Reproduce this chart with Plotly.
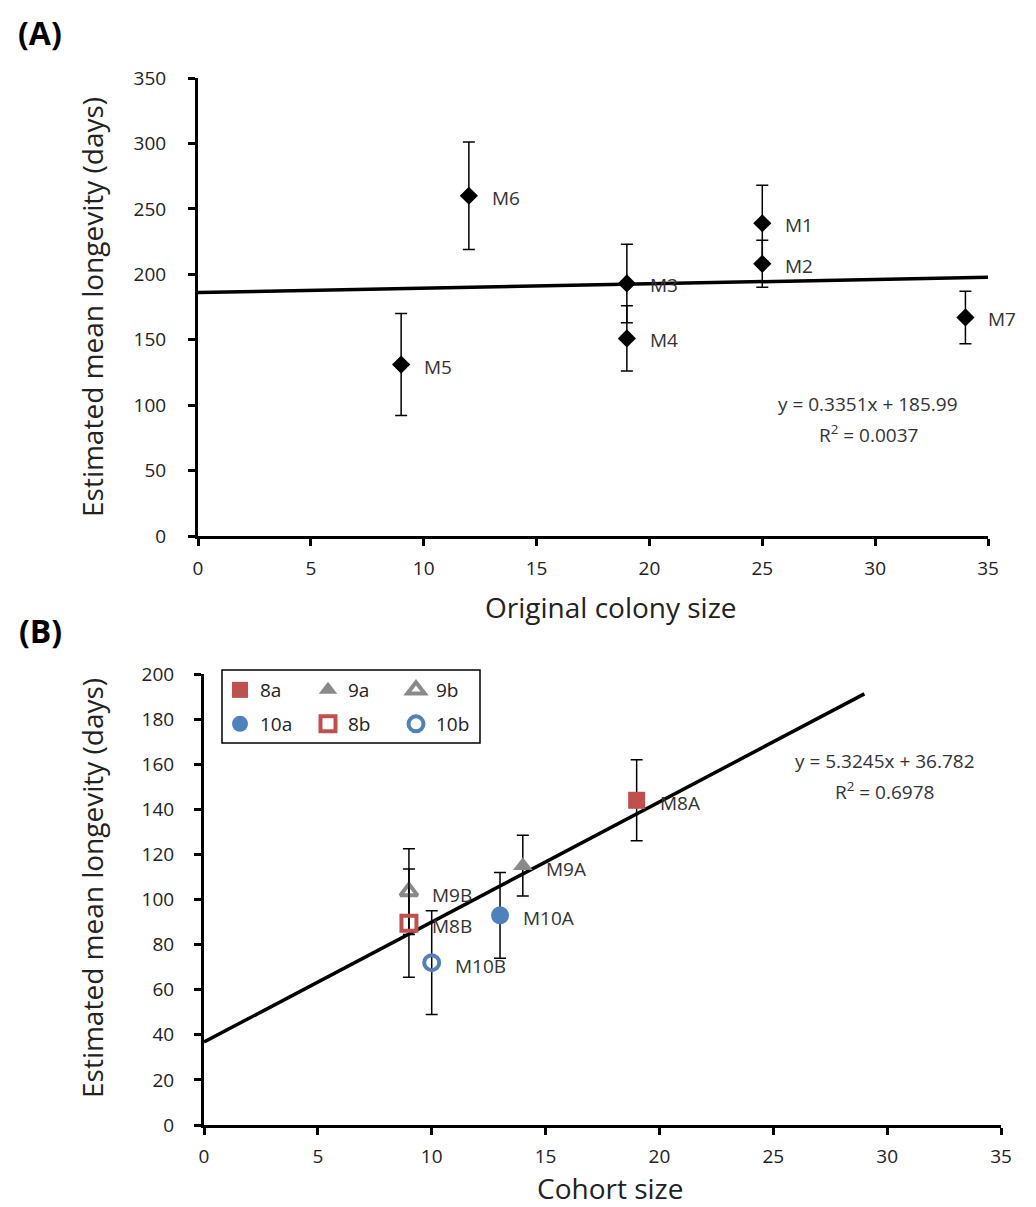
import plotly.graph_objects as go

W, H = 1036, 1207

# ---------------- Data: panel A ----------------
a_labels = ["M1", "M2", "M3", "M4", "M5", "M6", "M7"]
a_colony_size = [25, 25, 19, 19, 9, 12, 34]
a_longevity = [239, 208, 193, 151, 131, 260, 167]
a_error = [29, 18, 30, 25, 39, 41, 20]
a_slope, a_intercept, a_r2 = 0.3351, 185.99, 0.0037
a_fit_x = [0, 35]
a_x_ticks = [0, 5, 10, 15, 20, 25, 30, 35]
a_y_ticks = [0, 50, 100, 150, 200, 250, 300, 350]

# ---------------- Data: panel B ----------------
b_groups = ["8a", "9a", "9b", "10a", "8b", "10b"]
b_labels = ["M8A", "M9A", "M9B", "M10A", "M8B", "M10B"]
b_cohort_size = [19, 14, 9, 13, 9, 10]
b_longevity = [144, 115, 103.5, 93, 89.5, 72]
b_error = [18, 13.5, 19, 19, 24, 23]
b_slope, b_intercept, b_r2 = 5.3245, 36.782, 0.6978
b_fit_x = [0, 29]
b_x_ticks = [0, 5, 10, 15, 20, 25, 30, 35]
b_y_ticks = list(range(0, 201, 20))

# ---------------- Styles ----------------
FONT = "Open Sans"
RED, GRAY, BLUE = "#C0504D", "#8A8A8A", "#4F81BD"
b_style = {
    "8a": dict(symbol="square", color=RED, size=17, line=dict(width=0, color=RED)),
    "9a": dict(symbol="triangle-up", color=GRAY, size=17, line=dict(width=0, color=GRAY)),
    "9b": dict(symbol="triangle-up-open", color=GRAY, size=15, line=dict(width=4, color=GRAY)),
    "10a": dict(symbol="circle", color=BLUE, size=18, line=dict(width=0, color=BLUE)),
    "8b": dict(symbol="square-open", color=RED, size=15, line=dict(width=4, color=RED)),
    "10b": dict(symbol="circle-open", color=BLUE, size=15, line=dict(width=4, color=BLUE)),
}
b_legend_of = {"8a": "legend", "9a": "legend", "9b": "legend",
               "10a": "legend2", "8b": "legend2", "10b": "legend2"}


def px_x(p):
    return p / W


def px_y(p):
    return 1 - p / H


fig = go.Figure()

# Panel A trend line
fig.add_trace(go.Scatter(
    x=a_fit_x, y=[a_slope * v + a_intercept for v in a_fit_x],
    mode="lines", line=dict(color="black", width=3.5),
    showlegend=False, xaxis="x", yaxis="y", hoverinfo="skip"))

# Panel A points
fig.add_trace(go.Scatter(
    x=a_colony_size, y=a_longevity, mode="markers",
    marker=dict(symbol="diamond", size=14, color="black"),
    error_y=dict(type="data", array=a_error, color="black", thickness=1.5, width=6),
    showlegend=False, xaxis="x", yaxis="y"))

# Panel B trend line
fig.add_trace(go.Scatter(
    x=b_fit_x, y=[b_slope * v + b_intercept for v in b_fit_x],
    mode="lines", line=dict(color="black", width=3.5),
    showlegend=False, xaxis="x2", yaxis="y2", hoverinfo="skip"))

# Panel B points (one trace per group, for legend)
for g, lab, xs, ys, er in zip(b_groups, b_labels, b_cohort_size, b_longevity, b_error):
    st = b_style[g]
    fig.add_trace(go.Scatter(
        x=[xs], y=[ys], mode="markers", name=g,
        marker=dict(symbol=st["symbol"], size=st["size"], color=st["color"], line=st["line"]),
        error_y=dict(type="data", array=[er], color="black", thickness=1.5, width=6),
        legend=b_legend_of[g], xaxis="x2", yaxis="y2"))

annotations = []
lab_font = dict(family=FONT, size=19, color="#333333")
for lab, xs, ys in zip(a_labels, a_colony_size, a_longevity):
    annotations.append(dict(x=xs, y=ys, xref="x", yref="y", text=lab, showarrow=False,
                            xanchor="left", yanchor="middle", xshift=21, yshift=-2,
                            font=lab_font))
for lab, xs, ys in zip(b_labels, b_cohort_size, b_longevity):
    annotations.append(dict(x=xs, y=ys, xref="x2", yref="y2", text=lab, showarrow=False,
                            xanchor="left", yanchor="middle", xshift=21, yshift=-3,
                            font=lab_font))

# Equations
eq_font = dict(family=FONT, size=19, color="#333333")
annotations += [
    dict(x=29.7, y=100.8, xref="x", yref="y", showarrow=False, xanchor="center",
         yanchor="middle", text=f"y = {a_slope}x + {a_intercept}", font=eq_font),
    dict(x=29.7, y=78, xref="x", yref="y", showarrow=False, xanchor="center",
         yanchor="middle", text=f"R<sup>2</sup> = {a_r2}", font=eq_font),
    dict(x=29.9, y=161.4, xref="x2", yref="y2", showarrow=False, xanchor="center",
         yanchor="middle", text=f"y = {b_slope}x + {b_intercept}", font=eq_font),
    dict(x=29.9, y=148.1, xref="x2", yref="y2", showarrow=False, xanchor="center",
         yanchor="middle", text=f"R<sup>2</sup> = {b_r2}", font=eq_font),
]

# Axis titles and panel labels
title_font = dict(family=FONT, size=28, color="#222222")
panel_font = dict(family=FONT, size=32, color="black")
paper_texts = [
    (92, 307, "Estimated mean longevity (days)", -90, title_font),
    (92, 888, "Estimated mean longevity (days)", -90, title_font),
    (611, 607, "Original colony size", 0, title_font),
    (610, 1188, "Cohort size", 0, title_font),
    (40, 33, "<b>(A)</b>", 0, panel_font),
    (40, 630, "<b>(B)</b>", 0, panel_font),
]
for px, py, txt, ang, fnt in paper_texts:
    annotations.append(dict(x=px_x(px), y=px_y(py), xref="paper", yref="paper",
                            showarrow=False, xanchor="center", yanchor="middle",
                            text=txt, textangle=ang, font=fnt))

tick_font = dict(family=FONT, size=19, color="#222222")
axis_common = dict(showline=True, linecolor="black", linewidth=3, ticks="outside",
                   ticklen=7, tickwidth=2.5, tickcolor="black", showgrid=False,
                   zeroline=False, tickfont=tick_font, automargin=False, fixedrange=True)

legend_common = dict(orientation="h", xanchor="left", yanchor="middle",
                     entrywidth=43, entrywidthmode="pixels", bgcolor="rgba(0,0,0,0)",
                     font=dict(family=FONT, size=19, color="#222222"), traceorder="normal")

fig.update_layout(
    width=W, height=H,
    margin=dict(l=0, r=0, t=0, b=0),
    paper_bgcolor="white", plot_bgcolor="white",
    xaxis=dict(domain=[px_x(198), px_x(988)], range=[0, 35], tickvals=a_x_ticks,
               anchor="y", ticklabelstandoff=6, **axis_common),
    yaxis=dict(domain=[px_y(536), px_y(78)], range=[0, 350], tickvals=a_y_ticks,
               anchor="x", ticklabelstandoff=18, **axis_common),
    xaxis2=dict(domain=[px_x(204), px_x(1001)], range=[0, 35], tickvals=b_x_ticks,
                anchor="y2", ticklabelstandoff=5, **axis_common),
    yaxis2=dict(domain=[px_y(1125), px_y(674)], range=[0, 200], tickvals=b_y_ticks,
                anchor="x2", ticklabelstandoff=16, **axis_common),
    legend=dict(x=px_x(220), y=px_y(690), **legend_common),
    legend2=dict(x=px_x(220), y=px_y(724), **legend_common),
    shapes=[dict(type="rect", xref="paper", yref="paper",
                 x0=px_x(222), x1=px_x(480), y0=px_y(743), y1=px_y(670),
                 line=dict(color="black", width=1.5))],
    annotations=annotations,
    showlegend=True,
)

fig.write_html("out.html", config={"displayModeBar": False},
               post_script="document.body.style.margin='0px';")
